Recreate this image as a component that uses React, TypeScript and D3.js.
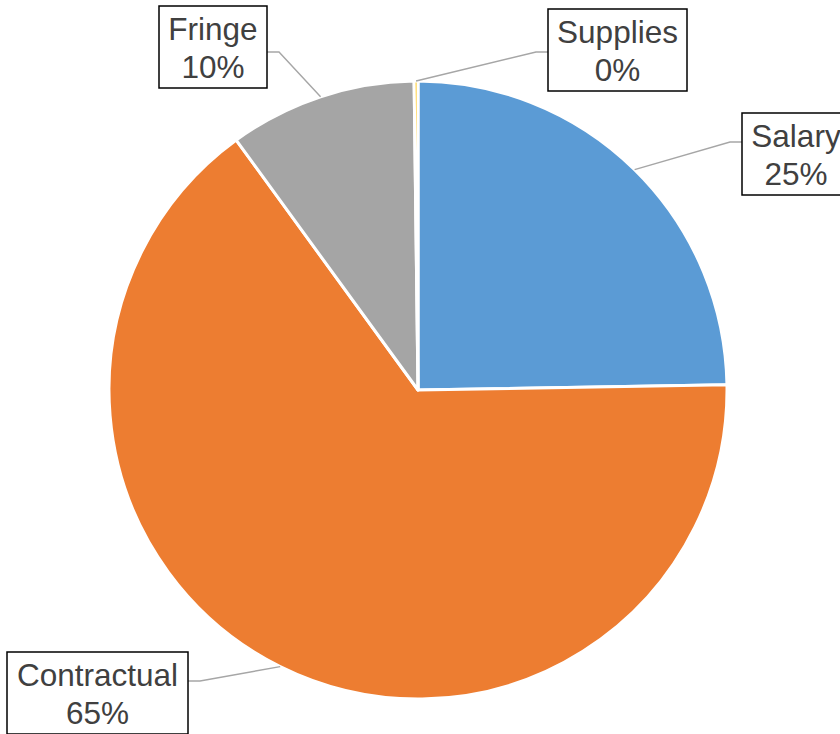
import React from "react";
import * as d3 from "d3";

const categories = ["Salary", "Contractual", "Fringe", "Supplies"];
const values = [24.7, 65.2, 9.8, 0.2];
const colors = ["#5B9BD5", "#ED7D31", "#A5A5A5", "#FFC000"];

// label box layout (position of each callout box)
const boxX = [742, 7, 159, 548];
const boxY = [113, 652, 6, 9];
const boxW = [108, 181, 108, 139];
const attachDy = [29, 29, 46, 43];
const boxH = 82;

const W = 840;
const H = 734;
const cx = 418;
const cy = 390;
const R = 309;

export default function App() {
  const data = categories.map((c, i) => ({ name: c, value: values[i], i }));
  const total = d3.sum(values);
  const pie = d3.pie<any>().sort(null).value((d: any) => d.value).startAngle(0);
  const arcs = pie(data);
  const arc = d3.arc<any>().innerRadius(0).outerRadius(R);
  const fmt = d3.format(".0%");

  return (
    <svg
      width={W}
      height={H}
      style={{ position: "absolute", left: 0, top: 0, background: "#fff" }}
      fontFamily="'Liberation Sans', Arial, sans-serif"
    >
      <g transform={`translate(${cx},${cy})`}>
        {arcs.map((a, k) => (
          <path
            key={k}
            d={arc(a) as string}
            fill={colors[a.data.i]}
            stroke="#fff"
            strokeWidth={3}
            strokeLinejoin="round"
          />
        ))}
      </g>
      {arcs.map((a, k) => {
        const i = a.data.i;
        const mid = (a.startAngle + a.endAngle) / 2;
        const ax = cx + R * Math.sin(mid);
        const ay = cy - R * Math.cos(mid);
        const bx = boxX[i];
        const by = boxY[i];
        const bw = boxW[i];
        const leftSide = ax > bx + bw;
        const edgeX = leftSide ? bx + bw : bx;
        const elbowX = leftSide ? edgeX + 12 : edgeX - 12;
        const ly = by + attachDy[i];
        const tx = bx + bw / 2;
        return (
          <g key={"l" + k}>
            <polyline
              points={`${ax},${ay} ${elbowX},${ly} ${edgeX},${ly}`}
              fill="none"
              stroke="#A6A6A6"
              strokeWidth={1.4}
            />
            <rect
              x={bx}
              y={by}
              width={bw}
              height={boxH}
              fill="#fff"
              stroke="#000"
              strokeWidth={1.5}
            />
            <text
              x={tx}
              y={by + 34}
              textAnchor="middle"
              fontSize={31.5}
              fill="#404040"
            >
              {a.data.name}
            </text>
            <text
              x={tx}
              y={by + 72}
              textAnchor="middle"
              fontSize={31.5}
              fill="#404040"
            >
              {fmt(a.data.value / total)}
            </text>
          </g>
        );
      })}
    </svg>
  );
}
